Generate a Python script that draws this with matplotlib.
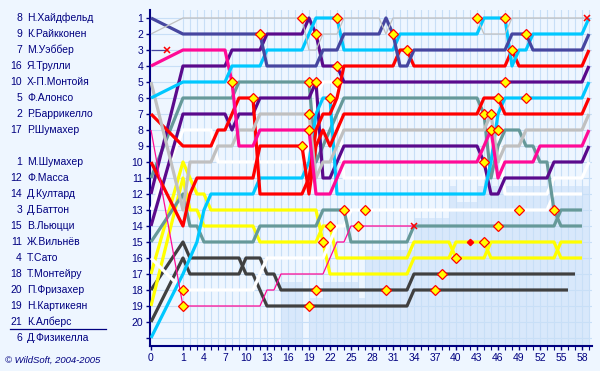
import matplotlib
matplotlib.use('Agg')
import matplotlib.pyplot as plt
from matplotlib.transforms import blended_transform_factory

plt.rcParams['font.family'] = ['Liberation Sans', 'DejaVu Sans']

N = None
# ---- positions per lap (lap 0 = grid .. lap 59) ----
HEI = [1, 2,2,2,2,2,2,2,2,2,2,2,2, 4,4,4,4,4,4,4,4, 3,3,3, 2,2,2,2,2,2, 1, 2, 4,4,
       3,3,3,3,3,3,3,3,3,3,3,3,3,3, 2,2,2, 3,3,3,3,3,3,3,3, 2]
RAI = [2, 1,1,1,1,1,1,1,1,1,1,1,1,1,1,1,1,1,1, 3,3, 2,2,2, 1,1,1,1,1,1, 2,
       1,1,1,1,1,1,1,1,1,1,1,1,1, 2,2,2,2, 1,1,1,1,1,1,1,1,1,1,1, N]
WEB = [3] + [N]*59
TRU = [4, 3,3,3,3,3,3,3, 5, 9,9,9, 8,8,8,8,8,8,8,8, 12,12,12, 11,
       10,10,10,10,10,10,10,10,10,10,10,10,10,10,10,10,10,10,10,10, 9, 8, 11,
       10,10,10,10,10, 9,9,9,9,9,9,9, 8]
MON = [5, 13, 10,10,10,10, 9,9,9, 8,8,8, 7,7,7,7,7,7,7,7, 11, 10,10, 9,
       8,8,8,8,8,8,8,8,8,8,8,8,8,8,8,8,8,8,8,8,8, 7, 10, 9,9,9,
       8,8,8,8,8,8,8,8,8, 7]
ALO = [6, 5,5,5,5,5,5,5, 4,4,4,4,4, 3,3,3,3,3,3, 2, 1,1,1,1, 3,3,3,3,3,3,3,3,
       2,2,2,2,2,2,2,2,2,2,2,2, 1,1,1,1, 4, 3,3, 2,2,2,2,2,2,2,2, 1]
BAR = [7, 9,9,9,9,9, 8,8, 7, 6,6,6, 12,12,12,12,12,12,12, 11, 8, 7,7, 6,
       4,4,4,4,4,4,4,4, 3,3, 4,4,4,4,4,4,4,4,4,4,4,4,4,4, 3,
       4,4,4,4,4,4,4,4,4,4, 3]
RSC = [8, 19,19,19,19,19,19,19,19,19,19,19,19, 18,18, 17,17,17,17,17,17,17, 16,
       15,15, 14,14,14,14,14,14,14,14,14] + [N]*26
MSC = [10, 14, 12, 11,11,11,11,11,11,11,11,11, 9,9,9,9,9,9,9, 12, 9, 8, 9, 8,
       7,7,7,7,7,7,7,7,7,7,7,7,7,7,7,7,7,7,7,7, 6,6,6,
       7,7,7,7,7,7,7,7,7,7,7,7, 6]
MAS = [11, 6,6,6,6,6,6,6,6, 5,5,5,5,5,5,5,5,5,5,5, 10, 9, 8, 7,
       6,6,6,6,6,6,6,6,6,6,6,6,6,6,6,6,6,6,6,6, 7, 11, 9, 8,8,8, 9,9, 10,10, 13,
       14,14,14,14, N]
COU = [12, 4,4,4,4,4,4,4, 3,3,3,3,3, 2,2,2,2,2,2, 1, 2, 4,4,4] + [5]*35 + [4]
BUT = [13, 8,8,8,8,8, 10,10,10,10,10,10,10,10,10,10,10,10,10, 9, 6, 5,5,5,
       11,11,11,11,11,11,11,11,11,11,11,11,11,11,11,11,11,11,11,11,11, 9, 8,
       12,12,12,12,12,12,12, 11,11,11,11,11, 10]
LIU = [14, 7,7,7,7,7,7,7, 8, 7,7,7, 6,6,6,6,6,6,6,6, 5, 11,11, 10,
       9,9,9,9,9,9,9,9,9,9,9,9,9,9,9,9,9,9,9,9, 10, 12,12,
       11,11,11,11,11,11,11, 10,10,10,10,10, 9]
VIL = [15, 12, 14,14, 15,15,15,15,15,15,15,15, 14,14,14,14,14,14,14,14,14,
       13,13,13,13, 15,15,15,15,15,15,15,15,15,
       14,14,14,14,14,14,14,14,14,14,14,14,14,14,14,14,14,14,14,14,14,
       13,13,13,13, N]
SAT = [16, 18,18,18,18,18,18,18,18,18,18,18, 17, 16,16,16,16,16,16,16,16,16, 15, 14,14,
       13,13,13,13,13,13,13,13,13,13,13,13,13,13,13,13,13,13,13,13,13,13,13,13,13,13,13,13,13,
       12,12,12,12,12, N]
MTR = [17, 10, 11, 12,12, 13,13,13,13,13,13,13,13,13,13,13,13,13,13,13,13, 15,
       17,17,17,17,17,17,17,17,17,17,17,17, 16,16,16,16,16,16, 15,15,15,15,15,
       16,16,16,16,16,16,16,16,16,16, 15,15,15,15, N]
FRI = [18, 15, 16,16,16,16,16,16,16,16, 17,17, 18,
       19,19,19,19,19,19,19,19,19,19,19,19,19,19,19,19,19,19,19,19,19,
       18,18,18,18,18,18,18,18,18,18,18,18,18,18,18,18,18,18,18,18,18,18,18, N,N,N]
KAR = [19, 11, 13,13, 14,14,14,14,14,14,14,14, 15,15,15,15,15,15,15,15,15, 14,14,
       16,16,16,16,16,16,16,16,16,16,16, 15,15,15,15,15,15, 16,16,16,16,16,
       15,15,15,15,15,15,15,15,15,15, 16,16,16,16, N]
ALB = [20, 16, 17,17,17,17,17,17,17,17, 16,16,16, 17,17,
       18,18,18,18,18,18,18,18,18,18,18,18,18,18,18,18,18,18,18,
       17,17,17,17,17,17,17,17,17,17,17,17,17,17,17,17,17,17,17,17,17,17,17,17, N,N]
FIS = [21, 17, 16, 15, 13, 12,12,12,12,12,12,12, 11,11,11,11,11,11,11, 10, 7, 6,6,
       12,12,12,12,12,12,12,12,12,12,12,12,12,12,12,12,12,12,12,12,12,12, 10, 7,
       6,6,6,6,6,6,6,6,6,6,6,6, 5]

positions = {'HEI': HEI, 'RAI': RAI, 'WEB': WEB, 'TRU': TRU, 'MON': MON, 'ALO': ALO,
             'BAR': BAR, 'RSC': RSC, 'MSC': MSC, 'MAS': MAS, 'COU': COU, 'BUT': BUT,
             'LIU': LIU, 'VIL': VIL, 'SAT': SAT, 'MTR': MTR, 'FRI': FRI, 'KAR': KAR,
             'ALB': ALB, 'FIS': FIS}

# pit-stop laps
pits = {'SAT': [1, 27, 49], 'RSC': [1, 26], 'TRU': [8, 19, 45], 'BAR': [11, 33, 48],
        'HEI': [12, 31, 50], 'RAI': [18, 43], 'MSC': [18, 46], 'MAS': [19, 44, 54],
        'MON': [19, 45], 'FRI': [19, 37], 'ALB': [20, 30, 38], 'COU': [20, 23, 47],
        'LIU': [20, 44], 'MTR': [21, 44], 'KAR': [22, 40], 'FIS': [22, 50],
        'ALO': [23, 47], 'BUT': [23, 46], 'VIL': [24, 46]}
penalty = {'MTR': [42]}
# retirements: (lap, position)
retire = {'WEB': (0.5, 3), 'RSC': (34, 14), 'RAI': (58.7, 1)}
thin = ['RAI', 'WEB', 'RSC']

colors = {'HEI': '#4646A0', 'WEB': '#4646A0', 'RAI': '#C0C0C0', 'MON': '#C0C0C0',
          'TRU': '#FF0A96', 'RSC': '#FF0A96', 'ALO': '#00C8FF', 'FIS': '#00C8FF',
          'BAR': '#FF0000', 'MSC': '#FF0000', 'MAS': '#669999', 'VIL': '#669999',
          'COU': '#5A0A8C', 'LIU': '#5A0A8C', 'BUT': '#FFFFFF', 'SAT': '#FFFFFF',
          'MTR': '#FFFF00', 'KAR': '#FFFF00', 'FRI': '#404040', 'ALB': '#404040'}

# grid labels (left column)
grid_rows = [1, 2, 3, 4, 5, 6, 7, 8, 10, 11, 12, 13, 14, 15, 16, 17, 18, 19, 20, 21]
grid_nums = [8, 9, 7, 16, 10, 5, 2, 17, 1, 12, 14, 3, 15, 11, 4, 18, 20, 19, 21, 6]
grid_names = ['Н.Хайдфельд', 'К.Райкконен', 'М.Уэббер', 'Я.Трулли', 'Х-П.Монтойя',
              'Ф.Алонсо', 'Р.Баррикелло', 'Р.Шумахер', 'М.Шумахер', 'Ф.Масса',
              'Д.Култард', 'Д.Баттон', 'В.Льюцци', 'Ж.Вильнёв', 'Т.Сато',
              'Т.Монтейру', 'П.Фризахер', 'Н.Картикеян', 'К.Алберс', 'Д.Физикелла']

# lapped-car shading: first lapped position for laps 1..59 (22 = none)
lapped_first = [22]*15 + [18, 18, 18] + [22] + [19, 19] + [18]*5 + [19] + [16]*7 + \
               [14]*5 + [12] + [13]*3 + [12]*16

xtick_laps = [0, 1, 4, 7, 10, 13, 16, 19, 22, 25, 28, 31, 34, 37, 40, 43, 46, 49, 52, 55, 58]

X0 = -3.57
def xm(l):
    return l if l >= 1 else X0 + l * (1 - X0)

NAVY = '#000080'
BG = '#EEF6FF'
GRID = '#C8DFF7'
SHADE = '#D8E8FB'

fig = plt.figure(figsize=(6, 3.71), dpi=100, facecolor=BG)
ax = fig.add_axes([150/600, 25/371, 442/600, 336/371])
ax.set_facecolor(BG)
ax.set_xlim(-3.71, 59.43)
ax.set_ylim(21.5, 0.5)

# shading of lapped cars
for i, f in enumerate(lapped_first):
    lap = i + 1
    if f < 22:
        ax.fill_between([lap - 1, lap], [f - 0.5]*2, [21.5]*2, color=SHADE, lw=0, zorder=0.5)

# grid
for r in range(1, 22):
    ax.axhline(r, color=GRID, lw=0.8, zorder=1)
for l in range(1, 60):
    ax.axvline(l, color=GRID, lw=0.8, zorder=1)

# lines
order = ['FRI', 'ALB', 'MTR', 'KAR', 'SAT', 'BUT', 'VIL', 'MAS', 'LIU', 'COU',
         'FIS', 'MSC', 'BAR', 'MON', 'TRU', 'ALO', 'HEI', 'RSC', 'WEB', 'RAI']
for d in order:
    pos = positions[d]
    xs = [xm(l) for l, p in enumerate(pos) if p is not None]
    ys = [p for p in pos if p is not None]
    if d in retire:
        xs.append(xm(retire[d][0]))
        ys.append(retire[d][1])
    lw = 0.9 if d in thin else 2.3
    ax.plot(xs, ys, color=colors[d], lw=lw, solid_joinstyle='round',
            solid_capstyle='butt', zorder=3 if d not in thin else 3.5)

for d, ls in pits.items():
    for l in ls:
        ax.plot(xm(l), positions[d][l], marker='D', ms=4.8, mfc='#FFFF00', mec='#FF0000',
                mew=0.9, ls='none', zorder=6)
for d, ls in penalty.items():
    for l in ls:
        ax.plot(xm(l), positions[d][l], marker='D', ms=3.2, mfc='#FF0000', mec='#FF0000',
                ls='none', zorder=6)
for d, (l, p) in retire.items():
    ax.plot(xm(l), p, marker='x', ms=4.5, mew=1.1, color='#FF0000', ls='none', zorder=7)

# axes styling
for s in ['top', 'right']:
    ax.spines[s].set_visible(False)
for s in ['left', 'bottom']:
    ax.spines[s].set_color(NAVY)
    ax.spines[s].set_linewidth(1.5)
ax.set_yticks(range(1, 22))
ax.set_yticklabels([str(i) for i in range(1, 21)] + [''])
ax.set_xticks([xm(l) for l in xtick_laps])
ax.set_xticklabels([str(l) for l in xtick_laps])
ax.set_xticks(list(range(1, 60)), minor=True)
ax.tick_params(axis='both', which='major', direction='out', length=3, width=1,
               color=NAVY, labelcolor=NAVY, labelsize=7.5, pad=2)
ax.tick_params(axis='x', which='minor', direction='out', length=3, width=0.8, color=NAVY)

# left labels
trans = blended_transform_factory(fig.transFigure, ax.transData)
for r, n, nm in zip(grid_rows, grid_nums, grid_names):
    ax.text(22/600, r, str(n), transform=trans, ha='right', va='center',
            fontsize=7.5, color=NAVY, clip_on=False)
    ax.text(27/600, r, nm, transform=trans, ha='left', va='center',
            fontsize=7.5, color=NAVY, clip_on=False)
ax.plot([10/600, 106/600], [20.45, 20.45], transform=trans, color=NAVY, lw=0.9,
        clip_on=False)
fig.text(5/600, 1 - 360/371, '© WildSoft, 2004-2005', fontsize=6.8, style='italic',
         color=NAVY, va='center', ha='left')

fig.savefig('out.png', dpi=100, facecolor=BG)
